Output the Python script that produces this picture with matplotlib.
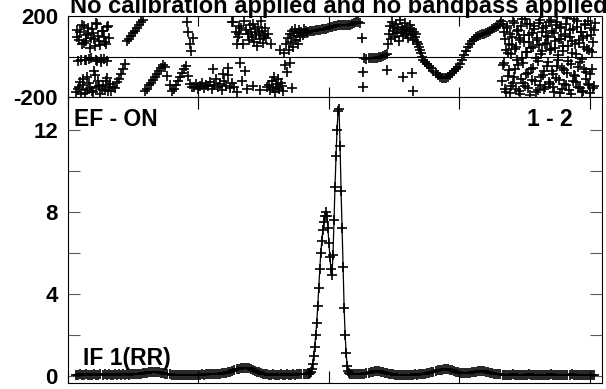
import numpy as np
import matplotlib
matplotlib.use("Agg")
import matplotlib.pyplot as plt

plt.rcParams.update({
    "font.family": ["Liberation Sans", "DejaVu Sans"],
    "font.weight": "bold",
    "font.size": 16,
    "axes.linewidth": 0.8,
})

# ---------- amplitude, baseline sampled every 4 channels, line every 2 ----------
amp_left = [  # channels 1, 5, 9, ...
    0.07, 0.05, 0.08, 0.06, 0.07, 0.09, 0.06, 0.07, 0.05, 0.08,
    0.07, 0.06, 0.08, 0.07, 0.09, 0.06, 0.08, 0.07, 0.06, 0.08,
    0.07, 0.09, 0.07, 0.08, 0.06, 0.08, 0.07, 0.09, 0.08, 0.10, 0.09,
    0.10, 0.11, 0.13, 0.15, 0.17, 0.19, 0.21, 0.22, 0.21, 0.20, 0.18, 0.16,
    0.13, 0.11, 0.10, 0.08, 0.07,
    0.06, 0.05, 0.07, 0.06, 0.05, 0.06, 0.04, 0.06, 0.05, 0.07, 0.06, 0.05,
    0.07, 0.06, 0.08, 0.07, 0.08, 0.09, 0.08, 0.10, 0.09, 0.11, 0.10, 0.12, 0.13,
    0.14, 0.16, 0.19, 0.22, 0.26, 0.29, 0.33, 0.36, 0.38, 0.40, 0.41, 0.40,
    0.38, 0.34, 0.30, 0.26, 0.22, 0.18, 0.14, 0.11, 0.09, 0.08,
    0.07, 0.06, 0.08, 0.07, 0.06, 0.07, 0.08, 0.06, 0.07, 0.08,
    0.07, 0.06, 0.08, 0.07, 0.08, 0.09, 0.08, 0.09, 0.10, 0.11,
]
amp_line = [  # channels 459, 461, ...
    0.12, 0.15, 0.22, 0.33, 0.6, 1.0, 1.4, 2.0, 2.6, 3.4,
    4.3, 5.2, 6.0, 6.6, 7.1, 7.5, 7.8, 8.0, 7.8, 7.2,
    6.5, 5.8, 5.2, 4.9, 5.9, 7.6, 9.2, 10.7, 12.0, 12.9,
    13.0, 11.2, 9.0, 7.2, 5.3, 3.3, 2.0, 1.1, 0.5, 0.25,
    0.15, 0.12,
]
amp_right = [  # channels 545, 549, ...
    0.11, 0.10, 0.10, 0.09, 0.10, 0.11,
    0.12, 0.14, 0.16, 0.19, 0.21, 0.23, 0.24, 0.23, 0.21, 0.19, 0.16, 0.13,
    0.11, 0.09, 0.08,
    0.07, 0.06, 0.05, 0.06, 0.04, 0.05, 0.06, 0.05, 0.07, 0.06, 0.08, 0.07,
    0.09, 0.10, 0.11,
    0.12, 0.14, 0.16, 0.18, 0.21, 0.24, 0.27, 0.29, 0.31, 0.33, 0.34, 0.33,
    0.31, 0.28, 0.25, 0.22, 0.19, 0.17, 0.15, 0.14, 0.14,
    0.15, 0.16, 0.18, 0.20, 0.22, 0.23, 0.24, 0.24, 0.23, 0.21, 0.19, 0.17,
    0.14, 0.12, 0.10, 0.09, 0.08, 0.07,
    0.06, 0.07, 0.05, 0.06, 0.08, 0.06, 0.05, 0.07, 0.06, 0.05,
    0.07, 0.06, 0.08, 0.05, 0.06, 0.07, 0.05, 0.06, 0.07, 0.06,
    0.05, 0.07, 0.06, 0.08, 0.06, 0.05, 0.07, 0.06, 0.05, 0.06,
    0.07, 0.05, 0.06, 0.08, 0.06, 0.07, 0.05, 0.06, 0.07, 0.06,
    0.05, 0.07, 0.06, 0.05, 0.06,
]

# ---------- phase (deg), segments: (first channel, step) ----------
ph_noise_a = [-175, 95, -20, -150, 120, -185, 60, -110, 150, -15, 75, -165,
              110, -130, 40, -5, 135, -175, 85, -90, 165, -20, 100, -145,
              55, -160, 125, -12, 70, -120, 145, -170, 90, -135]
ph_noise_a2 = [130, -160, 80, -125, -18, 155, -140, 65, -180, 105, -100,
               140, -10, -155, 90, -170, 115, -70, 50, -150, 160, -120, 75,
               -185, -25, 125, -140, 95, -165, 60, -105, 150, -150]
ph_ramps = [-168, -150, -158, -128, -110, -85, -60, -35,
            75, 88, 100, 115, 128, 142, 155, 168, 180,
            -172, -160, -143, -130, -115, -100, -88, -70, -58, -42,
            -50, -95, -140, -168,
            -160, -142, -122, -103, -82, -63, -45, -95, -135, -150]
ph_low_band = [-150, -138, -160, -145, -130, -155, -140, -148, -125, -160,
               -140, -110, -150, -135, -165, -120, -145, -90, -155, -130]
ph_clusters = [170, -150, 120, -175, 95, 150, -30, 140, -120, 60, 175, -70,
               130, -160, 110, 80, 155,
               120, 95, 160, 70, 135, 105, 50, 145, 115, 85, 175, 125, 65,
               100, 140, 90, -150, 110,
               -140, -165, 60, -120, -155, -100, -175, -135, -150, -110,
               -160, 30, -130, -145, -170,
               15, -40, 60, -75, 90, 30, 110, 70, 125, 45, 100, 135, 80,
               115, 60, 130, 95, 120, 105, 135, 115, 125, 118]
ph_track_a = [122, 125, 124, 128, 129, 131, 133, 134, 135, 138, 141, 144,
              147, 150, 152, 154, 155, 157, 156, 154, 155, 157, 160, 166,
              170, 172, 165, 90]
ph_flat = [-5, -10, -8, -9, -7, -6, -5, -3, -2, 2, 6, 10]
ph_cluster_b = [60, 110, 150, 85, 170, 125, 140, 95, 160, 115, 135, 75,
                180, 120, 145, 100, 130, 165, 110, 140, 90, 125, 155, 105,
                135, 80, 120, 95, 110, 70, 60, 45, 30, 15, 0]
ph_track_b = [-18, -27, -37, -47, -58, -70, -82, -92, -99, -104, -107, -106,
              -100, -91, -82, -73, -62, -50, -35, -15, 5, 25, 45, 63, 76,
              88, 97, 102, 106, 109, 111, 114, 120, 127, 134, 140, 146,
              152, 162]
ph_noise_b = [175, -40, 120, -160, 30, 150, -95, 60, -180, 10,
              95, -130, 165, -60, 45, -15, 130, -170, 80, -110,
              185, -30, 105, -145, 20, 160, -80, 70, -190, 40,
              115, -55, 150, -120, -5, 90, -165, 55, 180, -100,
              25, 140, -70, -150, 100, 65, -25, 170, -135, 35,
              125, -85, -175, 75, 155, -45, 5, -115, 145, 85,
              -160, 50, -65, 110, -140, 190, -20, 95, -185, 15,
              135, -90, 60, -125, 175, -50, 80, -155, 120, -10,
              -170, 45, 160, -75, 100, -135, 30, -180, 140, -60,
              70, -145, 165]
ph_noise_b2 = [-120, 160, -30, 85, -175, 140, 15, -65, 110, -145,
               55, 175, -100, 35, -160, 125, -40, 90, -185, 150,
               -5, -130, 70, 185, -85, 20, -155, 105, 160, -60,
               -115, 45, 135, -175, 80, -20, 165, -140, 10, 120,
               -90, -160, 60, 150, -45, 95, -125, 30, 180, -70,
               -150, 115, 40, -105, 170, -15, 85, -180, 140, -55,
               25, -135, 100, 160, -80, 50, -165, 130, -35, 75,
               -120, 185, -95, 10, 145, -150, 65, -25, 120, -175,
               90, -60, 155, -110, 35, 175, -140, -85, 105, 20,
               -155, 130]
stray_chan = [20, 40, 50, 62, 219, 222, 225, 228, 231, 270, 290, 300,
              308, 318, 322, 350, 363, 422, 426, 566, 567, 613, 645, 662, 664]
stray_phase = [-15, -18, -10, -22, 170, 120, 60, 25, 90, -60, -85, -55,
               170, 60, 110, -147, -163, -33, -155, -75, -150, -65, -100,
               -80, -170]

phase_segments = [
    (1, 2, ph_noise_a), (2, 2, ph_noise_a2), (69, 4, ph_ramps),
    (233, 4, ph_low_band), (311, 2, ph_clusters), (457, 4, ph_track_a),
    (569, 4, ph_flat), (615, 2, ph_cluster_b), (685, 4, ph_track_b),
    (839, 2, ph_noise_b), (840, 2, ph_noise_b2),
]

def chans(start, step, vals):
    return start + step * np.arange(len(vals))

amp_x = np.concatenate([chans(1, 4, amp_left), chans(459, 2, amp_line),
                        chans(545, 4, amp_right)])
amp_y = np.concatenate([amp_left, amp_line, amp_right])

ph_x = np.concatenate([chans(*s) for s in phase_segments] + [stray_chan])
ph_y = np.concatenate([s[2] for s in phase_segments] + [stray_phase])

# ---------- figure ----------
W, H = 606, 389
fig = plt.figure(figsize=(W / 100, H / 100), dpi=100)
L, R = 68, 602
ax_ph = fig.add_axes([L / W, 1 - 97 / H, (R - L) / W, 81 / H])
ax_am = fig.add_axes([L / W, 1 - 383 / H, (R - L) / W, 286 / H])

xticks = np.arange(-15, 1037, 257)
mk = dict(marker="+", ms=7.5, mew=1.2, color="black")

ax_ph.plot(ph_x, ph_y, ls="none", **mk)
ax_ph.axhline(0, color="black", lw=0.8)
ax_ph.set_xlim(-15, 1037)
ax_ph.set_ylim(-200, 200)
ax_ph.set_xticks(xticks)
ax_ph.set_yticks([-200, 200])
ax_ph.set_yticklabels(["-200", "200"])
ax_ph.tick_params(axis="x", direction="in", length=7, top=True, bottom=True,
                  labelbottom=False)
ax_ph.tick_params(axis="y", length=0, pad=7.2, labelsize=16)

ax_am.plot(amp_x, amp_y, ls="-", lw=0.9, **mk)
ax_am.set_xlim(-15, 1037)
ax_am.set_ylim(-0.34, 13.6)
ax_am.set_xticks(xticks)
ax_am.set_yticks(np.arange(0, 13, 2))
ax_am.set_yticklabels(["0", "", "4", "", "8", "", "12"])
ax_am.tick_params(axis="x", direction="in", length=8.6, top=True, bottom=True,
                  labelbottom=False)
ax_am.tick_params(axis="y", direction="in", length=8.6, left=True, right=True,
                  pad=7.2, labelsize=16, color="0.35")

ax_am.text(6 / 534, 1 - 11 / 286, "EF - ON", transform=ax_am.transAxes,
           ha="left", va="top", fontsize=16.5, fontweight="bold")
ax_am.text(505 / 534, 1 - 11 / 286, "1 - 2", transform=ax_am.transAxes,
           ha="right", va="top", fontsize=16.5, fontweight="bold")
ax_am.text(15 / 534, 18 / 286, "IF 1(RR)", transform=ax_am.transAxes,
           ha="left", va="baseline", fontsize=16.5, fontweight="bold")

fig.text(70.5 / W, 1 - 13 / H, "No calibration applied and no bandpass applied",
         ha="left", va="baseline", fontsize=17, fontweight="bold")

fig.savefig("out.png", dpi=100)
